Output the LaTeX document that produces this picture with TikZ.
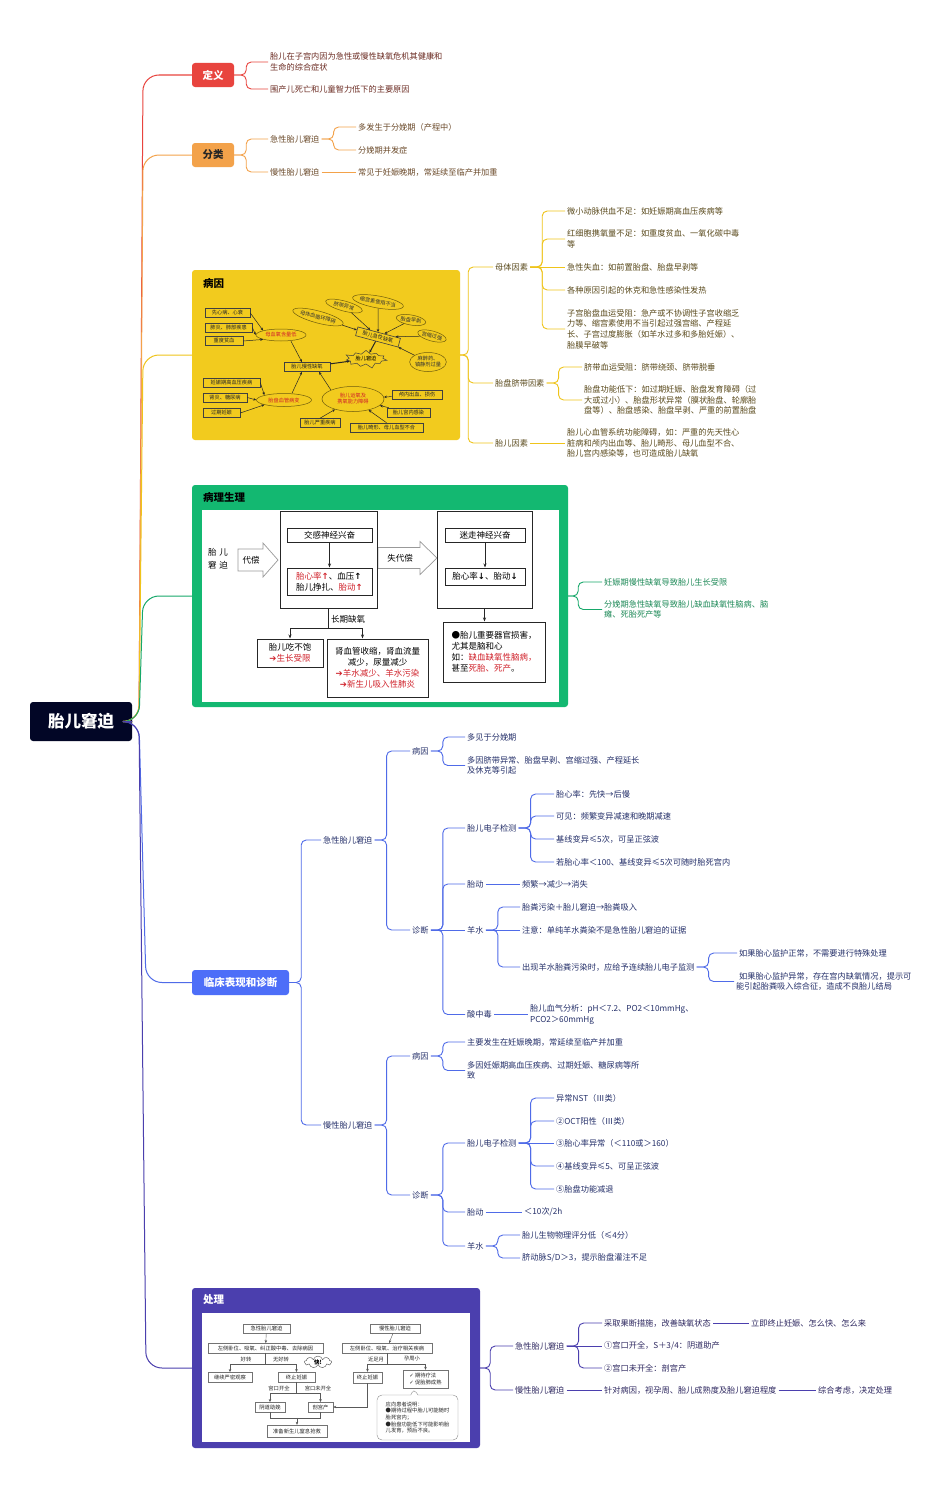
\documentclass[tikz,border=0pt]{standalone}
\usepackage{fontspec}
\setmainfont{Noto Sans CJK SC}
\newfontfamily\symfont{DejaVu Sans}
\usetikzlibrary{shapes.geometric,shapes.symbols,shapes.callouts,arrows.meta}

\definecolor{rootc}{HTML}{020626}
\definecolor{redc}{HTML}{E8443E}
\definecolor{orac}{HTML}{F3A24A}
\definecolor{yelc}{HTML}{F2CB1E}
\definecolor{yell}{HTML}{EFC41A}
\definecolor{grnc}{HTML}{13B871}
\definecolor{grnl}{HTML}{17A86A}
\definecolor{bluc}{HTML}{4D6EF8}
\definecolor{blul}{HTML}{4F6BE8}
\definecolor{purc}{HTML}{4B3FAE}
\definecolor{redt}{HTML}{6B2B22}
\definecolor{orat}{HTML}{6B4A2A}
\definecolor{yelt}{HTML}{5A4A1C}
\definecolor{grnt}{HTML}{1E8A58}
\definecolor{blut}{HTML}{25306A}
\definecolor{purt}{HTML}{2E2860}
\definecolor{chr}{HTML}{D0212A}

\newcommand\uparr{{\symfont\bfseries ↑}}
\newcommand\dnarr{{\symfont\bfseries ↓}}
\newcommand\rarr{{\symfont ➔}}
\newcommand\chk{{\symfont ✓}}
% branch line: parent -> fork -> child
\newcommand\fk[4][12]{\draw[br,#2] (#3.east) -- ++(#1,0) |- (#4.west);}
% straight line: parent -> child on the same row
\newcommand\st[3]{\draw[br,#1] (#2.east) -- (#3.west);}

\begin{document}
\begin{tikzpicture}[x=1pt,y=-1pt,
  br/.style={line width=0.9pt, rounded corners=5pt},
  rt/.style={line width=1pt, rounded corners=16pt},
  tx/.style={anchor=west, align=left, inner sep=2pt, font=\fontsize{8.2}{10.6}\selectfont},
  txR/.style={tx, text=redt}, txO/.style={tx, text=orat}, txY/.style={tx, text=yelt},
  txG/.style={tx, text=grnt}, txB/.style={tx, text=blut}, txP/.style={tx, text=purt},
  topic/.style={rounded corners=3pt, minimum width=42pt, minimum height=24pt, inner sep=2pt, font=\fontsize{10.5}{12}\selectfont\bfseries, text=white},
  panel/.style={rounded corners=3pt, inner sep=0pt},
  ttl/.style={anchor=west, inner sep=0pt, font=\fontsize{10.5}{12}\selectfont\bfseries},
  cb/.style={draw=black!75, line width=0.6pt, inner sep=1pt, minimum height=9pt, font=\fontsize{5.2}{6}\selectfont, text=black!85},
  ce/.style={ellipse, draw=black!55!yelc, line width=0.5pt, inner sep=0pt, font=\fontsize{5.2}{6}\selectfont, text=black!80},
  ca/.style={-{Stealth[length=3pt,width=2.5pt]}, line width=0.5pt, black!85},
  pb/.style={draw=black!85, line width=1pt, inner sep=1pt, font=\fontsize{8.5}{11}\selectfont},
  pa/.style={-{Stealth[length=4pt,width=3pt]}, line width=0.6pt, black!85},
  blk/.style={draw=black!40, line width=0.7pt},
  qb/.style={draw=black!55, line width=0.4pt, fill=white, inner sep=1pt, minimum height=9.5pt, font=\fontsize{5.3}{6.5}\selectfont, text=black!85},
  ql/.style={inner sep=0.5pt, font=\fontsize{5.3}{6.5}\selectfont, text=black!85},
  qa/.style={-{Stealth[length=3pt,width=2.5pt]}, line width=0.4pt, black!65}
]
\fill[white] (0,0) rectangle (950,1496);
\useasboundingbox (0,0) rectangle (950,1496);

% root and main topics
\node[fill=rootc, text=white, rounded corners=3pt, minimum width=102pt, minimum height=39pt, font=\fontsize{16.5}{18}\selectfont\bfseries] (root) at (81,721.5) {胎儿窘迫};
\node[topic, fill=redc] (def) at (213,75) {定义};
\node[topic, fill=orac, text=black!85] (cls) at (213,155) {分类};
\node[panel, fill=yelc, minimum width=268pt, minimum height=170pt] (cau) at (326,355) {};
\node[panel, fill=grnc, minimum width=376pt, minimum height=222pt] (phy) at (380,596) {};
\node[topic, fill=bluc, minimum width=97pt, minimum height=25pt] (cli) at (240.5,982.5) {临床表现和诊断};
\node[panel, fill=purc, minimum width=288pt, minimum height=160pt] (trt) at (336,1368) {};

\draw[rt, redc] (root.east) -- (139,721.5) -- (143,75) -- (def.west);
\draw[rt, orac] (root.east) -- (139,721.5) -- (143,155) -- (cls.west);
\draw[rt, yell] (root.east) -- (139,721.5) -- (143,355) -- (cau.west);
\draw[rt, grnl] (root.east) -- (139,721.5) -- (143,596) -- (phy.west);
\draw[rt, blul] (root.east) -- (139,721.5) -- (146,982.5) -- (cli.west);
\draw[rt, purc] (root.east) -- (139,721.5) -- (146,1368) -- (trt.west);

% 定义
\node[txR] (d1) at (268,62) {胎儿在子宫内因为急性或慢性缺氧危机其健康和\\生命的综合症状};
\node[txR] (d2) at (268,89) {围产儿死亡和儿童智力低下的主要原因};
\fk{redc}{def}{d1} \fk{redc}{def}{d2}

% 分类
\node[txO] (c1) at (268,139) {急性胎儿窘迫};
\node[txO] (c2) at (268,172) {慢性胎儿窘迫};
\node[txO] (c11) at (356,127) {多发生于分娩期（产程中）};
\node[txO] (c12) at (356,150) {分娩期并发症};
\node[txO] (c21) at (356,172) {常见于妊娠晚期，常延续至临产并加重};
\fk{orac}{cls}{c1} \fk{orac}{cls}{c2}
\fk{orac}{c1}{c11} \fk{orac}{c1}{c12} \st{orac}{c2}{c21}

% 病因 panel
\node[ttl] (cauT) at (203,283) {病因};
\node[cb, minimum width=45pt] (ca1) at (227.5,313) {先心病、心衰};
\node[cb, minimum width=47pt] (ca2) at (228.5,327.5) {肺炎、肺部疾患};
\node[cb, minimum width=38pt] (ca3) at (224,341) {重度贫血};
\node[ce, minimum width=50pt, minimum height=12pt, text=chr] (cm) at (281,335) {母血氧含量低};
\node[cb, minimum width=46pt] (cs) at (307,367) {胎儿慢性缺氧};
\node[ce, rotate=-15, minimum width=52pt, minimum height=12pt] (cv1) at (318,317) {母体血循环障碍};
\node[ce, rotate=-15, minimum width=38pt, minimum height=10pt] (cv2) at (344,306) {脐带异常};
\node[ce, rotate=-10, minimum width=50pt, minimum height=12pt] (cv3) at (378,302) {缩宫素使用不当};
\node[ce, rotate=-10, minimum width=30pt, minimum height=10pt] (cv4) at (411,320) {胎盘早剥};
\node[ce, rotate=-15, minimum width=29pt, minimum height=10pt] (cv5) at (432,336) {宫缩过强};
\node[ce, minimum width=36pt, minimum height=19pt, align=center] (cv6) at (428,362) {麻醉药、\\镇静剂过量};
\node[cb, rotate=-15, minimum width=44pt] (cq) at (378,337) {胎儿急性缺氧};
\node[starburst, draw=black!75, line width=0.5pt, starburst points=11, starburst point height=5pt, minimum width=44pt, minimum height=20pt, inner sep=0pt, font=\fontsize{5.2}{6}\selectfont] (cst) at (366,359) {胎儿窘迫};
\node[cb, minimum width=57pt] (cb1) at (231.5,382.5) {妊娠期高血压疾病};
\node[cb, minimum width=44pt] (cb2) at (225,397.5) {肾炎、糖尿病};
\node[cb, minimum width=37pt] (cb3) at (221.5,413) {过期妊娠};
\node[ce, minimum width=55pt, minimum height=13pt, text=chr] (cp) at (284,400) {胎盘血管病变};
\node[ce, minimum width=62pt, minimum height=25pt, text=chr, align=center] (cf) at (353,399) {胎儿运氧及\\携氧能力障碍};
\node[cb, minimum width=50pt] (cf1) at (417,395) {颅内出血、损伤};
\node[cb, minimum width=43pt] (cf2) at (408.5,412.5) {胎儿宫内感染};
\node[cb, minimum width=73pt] (cf3) at (386.5,427.5) {胎儿畸形、母儿血型不合};
\node[cb, minimum width=40pt] (cf4) at (320,423) {胎儿严重疾病};
\draw[ca] (ca1.east) -- (cm.north west);
\draw[ca] (ca2.east) -- (cm.west);
\draw[ca] (ca3.east) -- (cm.south west);
\draw[ca] ([xshift=10pt]cm.south) -- ([xshift=-5pt]cs.north);
\draw[ca] (cv1) -- (cq);
\draw[ca] (cv2) -- (cq);
\draw[ca] (cv3) -- (cq);
\draw[ca] (cv4) -- (cq);
\draw[ca] (cv5) -- (cq);
\draw[ca] (cv6) -- (cq);
\draw[ca, line width=1pt] (cq) -- (cst);
\draw[ca, line width=1pt] (cs) -- (cst);
\draw[ca] (cb1.east) -- (cp.north west);
\draw[ca] (cb2.east) -- (cp.west);
\draw[ca] (cb3.east) -- (cp.south west);
\draw[ca] ([xshift=8pt]cp.north) -- ([xshift=-5pt]cs.south);
\draw[ca] (cf.north west) -- ([xshift=12pt]cs.south);
\draw[ca] (cf1) -- (cf);
\draw[ca] (cf2) -- (cf);
\draw[ca] (cf3.north) -- (cf);
\draw[ca] (cf4.north) -- (cf);

\node[txY] (m) at (493,267) {母体因素};
\node[txY] (p) at (493,383) {胎盘脐带因素};
\node[txY] (f) at (493,443) {胎儿因素};
\fk[8]{yell}{cau}{m} \fk[8]{yell}{cau}{p} \fk[8]{yell}{cau}{f}
\node[txY] (m1) at (565,211) {微小动脉供血不足：如妊娠期高血压疾病等};
\node[txY] (m2) at (565,239) {红细胞携氧量不足：如重度贫血、一氧化碳中毒\\等};
\node[txY] (m3) at (565,267) {急性失血：如前置胎盘、胎盘早剥等};
\node[txY] (m4) at (565,290) {各种原因引起的休克和急性感染性发热};
\node[txY] (m5) at (565,329) {子宫胎盘血运受阻：急产或不协调性子宫收缩乏\\力等、缩宫素使用不当引起过强宫缩、产程延\\长、子宫过度膨胀（如羊水过多和多胎妊娠）、\\胎膜早破等};
\foreach \c in {m1,m2,m4,m5} {\fk{yell}{m}{\c}}
\st{yell}{m}{m3}
\node[txY] (p1) at (582,367) {脐带血运受阻：脐带绕颈、脐带脱垂};
\node[txY] (p2) at (582,400) {胎盘功能低下：如过期妊娠、胎盘发育障碍（过\\大或过小）、胎盘形状异常（膜状胎盘、轮廓胎\\盘等）、胎盘感染、胎盘早剥、严重的前置胎盘};
\fk{yell}{p}{p1} \fk{yell}{p}{p2}
\node[txY] (f1) at (565,443) {胎儿心血管系统功能障碍，如：严重的先天性心\\脏病和颅内出血等、胎儿畸形、母儿血型不合、\\胎儿宫内感染等，也可造成胎儿缺氧};
\st{yell}{f}{f1}

% 病理生理 panel
\node[fill=white, minimum width=357pt, minimum height=192pt, inner sep=0pt] (phyW) at (380,606) {};
\node[ttl] (phyT) at (203,497) {病理生理};
\node[align=center, font=\fontsize{8.5}{13}\selectfont, inner sep=0pt] (fd) at (218,559) {胎\hspace{3pt}儿\\窘\hspace{3pt}迫};
\node[font=\fontsize{8.5}{10}\selectfont, inner sep=0pt] (cmp) at (251,560) {代偿};
\draw[blk, shift={(cmp.center)}] (-13,-11) -- (12,-11) -- (12,-17) -- (27,0) -- (12,17) -- (12,11) -- (-13,11) -- cycle;
\node[font=\fontsize{8.5}{10}\selectfont, inner sep=0pt] (dcmp) at (400,558) {失代偿};
\draw[blk, shift={(dcmp.center)}] (-22,-10.5) -- (20,-10.5) -- (20,-16.5) -- (37,0) -- (20,16.5) -- (20,10.5) -- (-22,10.5) -- cycle;
\node[pb, minimum width=97pt, minimum height=97pt] (bigL) at (328.5,559.5) {};
\node[pb, minimum width=85pt, minimum height=14pt] (sym) at (329.5,535) {交感神经兴奋};
\node[pb, minimum width=85pt, minimum height=27pt, align=left] (symr) at (329.5,581.5) {\textcolor{chr}{胎心率\uparr}、血压\uparr\\胎儿挣扎、\textcolor{chr}{胎动\uparr}};
\node[pb, minimum width=95pt, minimum height=97pt] (bigR) at (484.5,559.5) {};
\node[pb, minimum width=80pt, minimum height=14pt] (vag) at (485,535) {迷走神经兴奋};
\node[pb, minimum width=80pt, minimum height=17pt] (vagr) at (485,576.5) {胎心率\dnarr、胎动\dnarr};
\node[pb, minimum width=66pt, minimum height=28pt, align=center] (eat) at (290,653) {胎儿吃不饱\\\textcolor{chr}{\rarr 生长受限}};
\node[pb, minimum width=101pt, minimum height=58pt, align=center] (kid) at (377.5,668) {肾血管收缩，肾血流量\\减少，尿量减少\\\textcolor{chr}{\rarr 羊水减少、羊水污染}\\\textcolor{chr}{\rarr 新生儿吸入性肺炎}};
\node[pb, minimum width=102pt, minimum height=60pt, align=left] (harm) at (494,652) {●胎儿重要器官损害，\\尤其是脑和心\\如：\textcolor{chr}{缺血缺氧性脑病，}\\甚至\textcolor{chr}{死胎、死产}。};
\draw[pa] (sym) -- (symr);
\draw[pa] (vag) -- (vagr);
\draw[line width=0.6pt, black!85] (bigL.south) -- ++(0,20) coordinate (lm);
\draw[pa] (lm) -| (eat.north);
\draw[pa] (lm) -| ([xshift=-15pt]kid.north);
\node[font=\fontsize{8.5}{10}\selectfont, anchor=west, inner sep=1pt] (lh) at (330,619) {长期缺氧};
\draw[pa] (bigR.south) -- (bigR.south |- harm.north);

\node[txG] (g1) at (602,582) {妊娠期慢性缺氧导致胎儿生长受限};
\node[txG] (g2) at (602,609.5) {分娩期急性缺氧导致胎儿缺血缺氧性脑病、脑\\瘫、死胎死产等};
\fk[10]{grnl}{phy}{g1} \fk[10]{grnl}{phy}{g2}

% 临床表现和诊断
\node[txB] (a) at (321,840) {急性胎儿窘迫};
\node[txB] (b) at (321,1125) {慢性胎儿窘迫};
\fk{blul}{cli}{a} \fk{blul}{cli}{b}
\node[txB] (aC) at (410,751) {病因};
\node[txB] (aD) at (410,930) {诊断};
\fk{blul}{a}{aC} \fk{blul}{a}{aD}
\node[txB] (aC1) at (465,737) {多见于分娩期};
\node[txB] (aC2) at (465,765.5) {多因脐带异常、胎盘早剥、宫缩过强、产程延长\\及休克等引起};
\fk{blul}{aC}{aC1} \fk{blul}{aC}{aC2}
\node[txB] (aE) at (465,828) {胎儿电子检测};
\node[txB] (aM) at (465,884) {胎动};
\node[txB] (aA) at (465,930) {羊水};
\node[txB] (aX) at (465,1014.5) {酸中毒};
\foreach \c in {aE,aM,aX} {\fk{blul}{aD}{\c}}
\st{blul}{aD}{aA}
\node[txB] (aE1) at (554,794) {胎心率：先快→后慢};
\node[txB] (aE2) at (554,816) {可见：频繁变异减速和晚期减速};
\node[txB] (aE3) at (554,839) {基线变异≤5次，可呈正弦波};
\node[txB] (aE4) at (554,862) {若胎心率＜100、基线变异≤5次可随时胎死宫内};
\foreach \c in {aE1,aE2,aE3,aE4} {\fk{blul}{aE}{\c}}
\node[txB] (aM1) at (520,884) {频繁→减少→消失};
\st{blul}{aM}{aM1}
\node[txB] (aA1) at (520,907) {胎粪污染＋胎儿窘迫→胎粪吸入};
\node[txB] (aA2) at (520,930) {注意：单纯羊水粪染不是急性胎儿窘迫的证据};
\node[txB] (aA3) at (520,967) {出现羊水胎粪污染时，应给予连续胎儿电子监测};
\fk{blul}{aA}{aA1} \st{blul}{aA}{aA2} \fk{blul}{aA}{aA3}
\node[txB] (aA31) at (737,953) {如果胎心监护正常，不需要进行特殊处理};
\node[txB] (aA32) at (734,981.5) {\hspace*{3pt}如果胎心监护异常，存在宫内缺氧情况，提示可\\能引起胎粪吸入综合征，造成不良胎儿结局};
\fk{blul}{aA3}{aA31} \fk{blul}{aA3}{aA32}
\node[txB] (aX1) at (528,1014.5) {胎儿血气分析：pH＜7.2、PO2＜10mmHg、\\PCO2＞60mmHg};
\st{blul}{aX}{aX1}

\node[txB] (bC) at (410,1056) {病因};
\node[txB] (bD) at (410,1195) {诊断};
\fk{blul}{b}{bC} \fk{blul}{b}{bD}
\node[txB] (bC1) at (465,1042) {主要发生在妊娠晚期，常延续至临产并加重};
\node[txB] (bC2) at (465,1070.5) {多因妊娠期高血压疾病、过期妊娠、糖尿病等所\\致};
\fk{blul}{bC}{bC1} \fk{blul}{bC}{bC2}
\node[txB] (bE) at (465,1143) {胎儿电子检测};
\node[txB] (bM) at (465,1212) {胎动};
\node[txB] (bA) at (465,1246) {羊水};
\foreach \c in {bE,bM,bA} {\fk{blul}{bD}{\c}}
\node[txB] (bE1) at (554,1098) {异常NST（Ⅲ类）};
\node[txB] (bE2) at (554,1121) {②OCT阳性（Ⅲ类）};
\node[txB] (bE3) at (554,1143) {③胎心率异常（＜110或＞160）};
\node[txB] (bE4) at (554,1166) {④基线变异≤5、可呈正弦波};
\node[txB] (bE5) at (554,1189) {⑤胎盘功能减退};
\foreach \c in {bE1,bE2,bE4,bE5} {\fk{blul}{bE}{\c}}
\st{blul}{bE}{bE3}
\node[txB] (bM1) at (522,1212) {＜10次/2h};
\st{blul}{bM}{bM1}
\node[txB] (bA1) at (520,1235) {胎儿生物物理评分低（≤4分）};
\node[txB] (bA2) at (520,1258) {脐动脉S/D＞3，提示胎盘灌注不足};
\fk{blul}{bA}{bA1} \fk{blul}{bA}{bA2}

% 处理 panel
\node[fill=white, minimum width=268pt, minimum height=129pt, inner sep=0pt] (trtW) at (336,1377.5) {};
\node[ttl, text=white] (trtT) at (203,1300) {处理};
\node[qb, minimum width=47pt] (q1) at (266.5,1328.5) {急性胎儿窘迫};
\node[qb, minimum width=115pt] (q2) at (265.5,1348) {左侧卧位、吸氧、纠正酸中毒、去除病因};
\node[qb, minimum width=44pt] (q3) at (230,1377) {继续严密观察};
\node[qb, minimum width=37pt] (q4) at (296.5,1377) {终止妊娠};
\node[cloud, draw=black!70, fill=white, cloud puffs=9, aspect=2.5, inner sep=0pt, minimum width=27pt, minimum height=11pt, font=\fontsize{5.5}{6}\selectfont\bfseries] (fast) at (318,1362) {快!};
\node[qb, minimum width=30pt] (q5) at (270,1407) {阴道助娩};
\node[qb, minimum width=25pt] (q6) at (320.5,1407) {剖宫产};
\node[qb, minimum width=60pt, minimum height=12pt] (q7) at (297,1431) {准备新生儿窒息抢救};
\node[qb, minimum width=50pt] (r1) at (395,1328.5) {慢性胎儿窘迫};
\node[qb, minimum width=90pt] (r2) at (387,1348) {左侧卧位、吸氧、治疗相关疾病};
\node[qb, minimum width=29pt, minimum height=11pt] (r3) at (367.5,1377.5) {终止妊娠};
\node[qb, minimum width=45pt, minimum height=18pt, align=left] (r4) at (425.5,1379) {\chk\ 期待疗法\\\chk\ 促胎肺成熟};
\node[rectangle callout, draw=black!45, fill=white, rounded corners=5pt, minimum width=81pt, minimum height=45pt, inner sep=2pt, align=left, font=\fontsize{5.3}{6.6}\selectfont, text=black!85, callout absolute pointer={([xshift=-12pt]r4.south)}] (note) at (417.5,1417.5) {应向患者说明：\\●期待过程中胎儿可能随时\\胎死宫内；\\●胎盘功能低下可能影响胎\\儿发育，预后不良。};
\draw[qa] (q1) -- (q2);
\draw[line width=0.4pt, black!65] (q2.south) -- ++(0,11) coordinate (qm);
\draw[qa] (qm) -| (q3.north);
\draw[qa] (qm) -| (q4.north);
\node[ql] (l1) at (246,1359) {好转};
\node[ql] (l2) at (281,1359) {无好转};
\draw[line width=0.4pt, black!65] (q4.south) -- ++(0,11) coordinate (qn);
\draw[qa] (qn) -| (q5.north);
\draw[qa] (qn) -| (q6.north);
\node[ql] (l3) at (279,1388.5) {宫口开全};
\node[ql] (l4) at (318,1388.5) {宫口未开全};
\draw[line width=0.4pt, black!65] (q5.south) -- ++(0,6) coordinate (qo1);
\draw[line width=0.4pt, black!65] (q6.south) -- ++(0,6) coordinate (qo2);
\draw[line width=0.4pt, black!65] (qo1) -- (qo2);
\draw[qa] (q7.north |- qo1) -- (q7.north);
\draw[qa] (r1) -- (r2);
\draw[line width=0.4pt, black!65] (r2.south) -- ++(0,11) coordinate (rm);
\draw[qa] (rm) -| (r3.north);
\draw[qa] (rm) -| (r4.north);
\node[ql] (l5) at (376,1359) {近足月};
\node[ql] (l6) at (412,1359) {孕周小};
\draw[qa] (r3.south) |- (q6.east);

\node[txP] (tA) at (513,1346) {急性胎儿窘迫};
\node[txP] (tB) at (513,1390) {慢性胎儿窘迫};
\fk[10]{purc}{trt}{tA} \fk[10]{purc}{trt}{tB}
\node[txP] (tA1) at (602,1323) {采取果断措施，改善缺氧状态};
\node[txP] (tA11) at (749,1323) {立即终止妊娠、怎么快、怎么来};
\node[txP] (tA2) at (602,1346) {①宫口开全，S＋3/4：阴道助产};
\node[txP] (tA3) at (602,1368) {②宫口未开全：剖宫产};
\fk{purc}{tA}{tA1} \st{purc}{tA}{tA2} \fk{purc}{tA}{tA3}
\st{purc}{tA1}{tA11}
\node[txP] (tB1) at (602,1390) {针对病因，视孕周、胎儿成熟度及胎儿窘迫程度};
\node[txP] (tB11) at (816,1390) {综合考虑，决定处理};
\st{purc}{tB}{tB1} \st{purc}{tB1}{tB11}
\end{tikzpicture}
\end{document}
